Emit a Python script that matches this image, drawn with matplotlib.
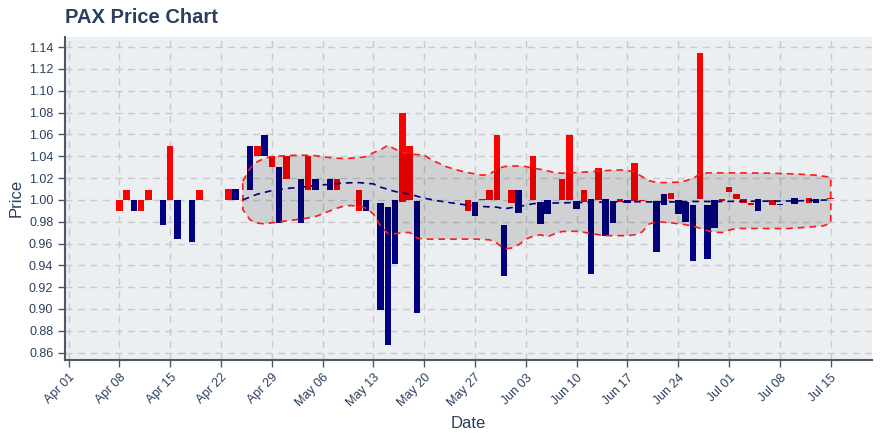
import numpy as np
import pandas as pd
import matplotlib
matplotlib.use("Agg")
import matplotlib.pyplot as plt
import matplotlib.dates as mdates

# === DATA ===
START = pd.Timestamp("2019-04-01")

# daily open/close bars (day offset from Apr 01)
bar_days = [7, 8, 9, 10, 11, 13, 14, 15, 17, 18, 22, 23, 25, 26, 27, 28, 29, 30,
            32, 33, 34, 36, 37, 40, 41, 43, 44, 45, 46, 47, 48, 55, 56, 57, 58,
            59, 60, 61, 62, 64, 65, 66, 68, 69, 70, 71, 72, 73, 74, 75, 76, 77,
            78, 79, 81, 82, 83, 84, 85, 86, 87, 88, 89, 90, 91, 92, 93, 94, 95,
            97, 98, 100, 102, 103, 105]
bar_open = [0.990, 1.000, 1.000, 0.990, 1.000, 1.000, 1.000, 1.000, 1.000, 1.000,
            1.000, 1.010, 1.049, 1.040, 1.059, 1.030, 1.030, 1.019,
            1.019, 1.009, 1.019, 1.019, 1.009, 0.990, 1.000, 0.997, 0.993, 1.000,
            0.998, 1.000, 0.999, 0.990, 0.998, 1.000, 1.000,
            1.000, 0.977, 0.997, 1.009, 1.000, 0.998, 1.000, 1.000, 1.000, 0.999,
            0.998, 1.001, 1.000, 1.001, 0.999, 0.998, 1.000,
            0.999, 0.999, 0.999, 1.005, 1.001, 1.000, 0.998, 0.995, 1.001, 0.995,
            1.000, 0.999, 1.007, 1.001, 0.997, 0.995, 1.001,
            0.995, 0.996, 1.002, 0.997, 1.001, 1.001]
bar_close = [1.000, 1.009, 0.990, 1.000, 1.009, 0.977, 1.049, 0.964, 0.961, 1.009,
             1.010, 1.000, 1.009, 1.049, 1.040, 1.040, 0.979, 1.040,
             0.979, 1.040, 1.009, 1.009, 1.019, 1.009, 0.990, 0.899, 0.867, 0.941,
             1.080, 1.049, 0.896, 1.000, 0.985, 1.001, 1.009,
             1.059, 0.930, 1.009, 0.988, 1.040, 0.978, 0.987, 1.019, 1.059, 0.992,
             1.009, 0.932, 1.029, 0.967, 0.979, 1.001, 0.997,
             1.034, 1.000, 0.952, 0.995, 1.006, 0.987, 0.980, 0.944, 1.135, 0.946,
             0.974, 1.001, 1.012, 1.005, 1.001, 0.997, 0.990,
             1.000, 0.995, 0.996, 1.002, 0.997, 1.002]

# bollinger band edges
upper_days = [24, 25, 26, 27, 28, 30, 32, 34, 36, 38, 40, 41, 42, 43, 44, 45, 46,
              47, 49, 50, 51, 52, 53, 54, 55, 56, 57, 58, 59, 60, 61, 62, 63, 64,
              65, 66, 67, 68, 70, 72, 74, 76, 77, 78, 79, 80, 81, 82, 84, 85, 86,
              87, 88, 92, 96, 100, 103, 105]
upper_vals = [1.017, 1.029, 1.035, 1.038, 1.0396, 1.0405, 1.041, 1.0405, 1.0387,
              1.0378, 1.0387, 1.0396, 1.0433, 1.046, 1.050, 1.0464, 1.0433,
              1.042, 1.041, 1.0366, 1.0336, 1.0305, 1.0284, 1.0265, 1.025, 1.0238,
              1.0226, 1.0235, 1.028, 1.0305, 1.031, 1.031, 1.0305, 1.029,
              1.028, 1.0265, 1.025, 1.0244, 1.025, 1.0259, 1.0268, 1.0274, 1.0268,
              1.0256, 1.0213, 1.0175, 1.016, 1.0158, 1.0162, 1.0174, 1.0198,
              1.0235, 1.0247, 1.0247, 1.0245, 1.0238, 1.0226, 1.0207]
lower_days = [24, 25, 26, 27, 28, 30, 32, 34, 35, 36, 37, 38, 39, 40, 41, 42, 43,
              44, 45, 46, 47, 48, 49, 56, 58, 59, 60, 61, 62, 63, 64, 65, 66, 67,
              68, 70, 71, 72, 74, 77, 78, 79, 80, 81, 83, 85, 86, 87, 88, 89, 90,
              91, 92, 99, 102, 104, 105]
lower_vals = [0.991, 0.9817, 0.9787, 0.978, 0.979, 0.9808, 0.9823, 0.9847, 0.9872,
              0.9899, 0.9924, 0.9945, 0.9948, 0.9939, 0.9924, 0.987, 0.9756,
              0.969, 0.969, 0.970, 0.9701, 0.965, 0.964, 0.964, 0.9634, 0.9604,
              0.9552, 0.9558, 0.9588, 0.964, 0.9667, 0.968, 0.9662, 0.969,
              0.971, 0.9712, 0.9703, 0.969, 0.9672, 0.9672, 0.968, 0.9705, 0.978,
              0.980, 0.979, 0.9772, 0.976, 0.974, 0.9718, 0.9705, 0.970,
              0.9722, 0.9738, 0.9737, 0.975, 0.9762, 0.9787]
mid_days = [24, 26, 28, 30, 32, 34, 36, 38, 40, 42, 43, 45, 47, 49, 51, 53, 55,
            57, 59, 60, 62, 63, 64, 66, 70, 74, 78, 82, 86, 90, 95, 100, 105]
mid_vals = [1.000, 1.0052, 1.0085, 1.0104, 1.0116, 1.0131, 1.0143, 1.0155, 1.0158,
            1.0146, 1.0116, 1.0076, 1.0052, 1.0015, 0.999, 0.997, 0.9951,
            0.9939, 0.9933, 0.9918, 0.9939, 0.9951, 0.9965, 0.997, 0.9975, 0.998,
            0.9983, 0.998, 0.9985, 0.9985, 0.9988, 0.999, 1.000]

UP_COLOR = "#ff0000"
DOWN_COLOR = "#000080"
TEXT_COLOR = "#2a3f5f"


def to_dates(days):
    return START + pd.to_timedelta(days, unit="D")


plt.rcParams["font.family"] = ["Liberation Sans", "DejaVu Sans"]

fig = plt.figure(figsize=(8.8, 4.4), dpi=100)
ax = fig.add_axes([0.074, 0.182, 0.917, 0.735])
ax.set_facecolor("#eceff1")

# bars from open to close
bx = mdates.date2num(to_dates(bar_days))
o = np.array(bar_open)
c = np.array(bar_close)
colors = [UP_COLOR if cc >= oo else DOWN_COLOR for oo, cc in zip(o, c)]
ax.bar(bx, np.abs(c - o), bottom=np.minimum(o, c), width=0.9,
       color=colors, linewidth=0, zorder=2)

# band polygon
ux = mdates.date2num(to_dates(upper_days))
lx = mdates.date2num(to_dates(lower_days))
poly_x = np.concatenate([ux, lx[::-1]])
poly_y = np.concatenate([upper_vals, lower_vals[::-1]])
ax.fill(poly_x, poly_y, facecolor=(0, 0, 0, 0.12), edgecolor="none", zorder=3)
ax.fill(poly_x, poly_y, facecolor="none", edgecolor="#ff1a1a", linewidth=1.2,
        linestyle=(0, (4, 3)), zorder=4)

mx = mdates.date2num(to_dates(mid_days))
ax.plot(mx, mid_vals, color=DOWN_COLOR, linewidth=1.2, linestyle=(0, (4, 3)),
        zorder=4)

# axes
ax.set_xlim(mdates.date2num(START) - 0.48, mdates.date2num(START) + 110.7)
ax.set_ylim(0.8533, 1.1497)
ax.set_yticks(np.arange(0.86, 1.1401, 0.02))
ax.yaxis.set_major_formatter(matplotlib.ticker.FormatStrFormatter("%.2f"))
ticks = mdates.date2num(pd.date_range("2019-04-01", "2019-07-15", freq="7D"))
ax.set_xticks(ticks)
ax.xaxis.set_major_formatter(mdates.DateFormatter("%b %d"))
plt.setp(ax.get_xticklabels(), rotation=45, ha="right", rotation_mode="anchor")

ax.grid(True, color="#c8cacc", linestyle=(0, (5, 4)), linewidth=1.0, zorder=0)
ax.set_axisbelow(True)
for side in ("top", "right"):
    ax.spines[side].set_visible(False)
for side in ("left", "bottom"):
    ax.spines[side].set_color("#4a5868")
    ax.spines[side].set_linewidth(1.5)
ax.tick_params(axis="both", colors="#4a5868", labelcolor=TEXT_COLOR,
               labelsize=9, length=5, width=1)

ax.set_xlabel("Date", fontsize=12, color=TEXT_COLOR, labelpad=5)
ax.set_ylabel("Price", fontsize=12, color=TEXT_COLOR, labelpad=4)
fig.text(0.074, 0.961, "PAX Price Chart", fontsize=14.5, fontweight="bold",
         color=TEXT_COLOR, ha="left", va="center")

fig.savefig("out.png", dpi=100)
